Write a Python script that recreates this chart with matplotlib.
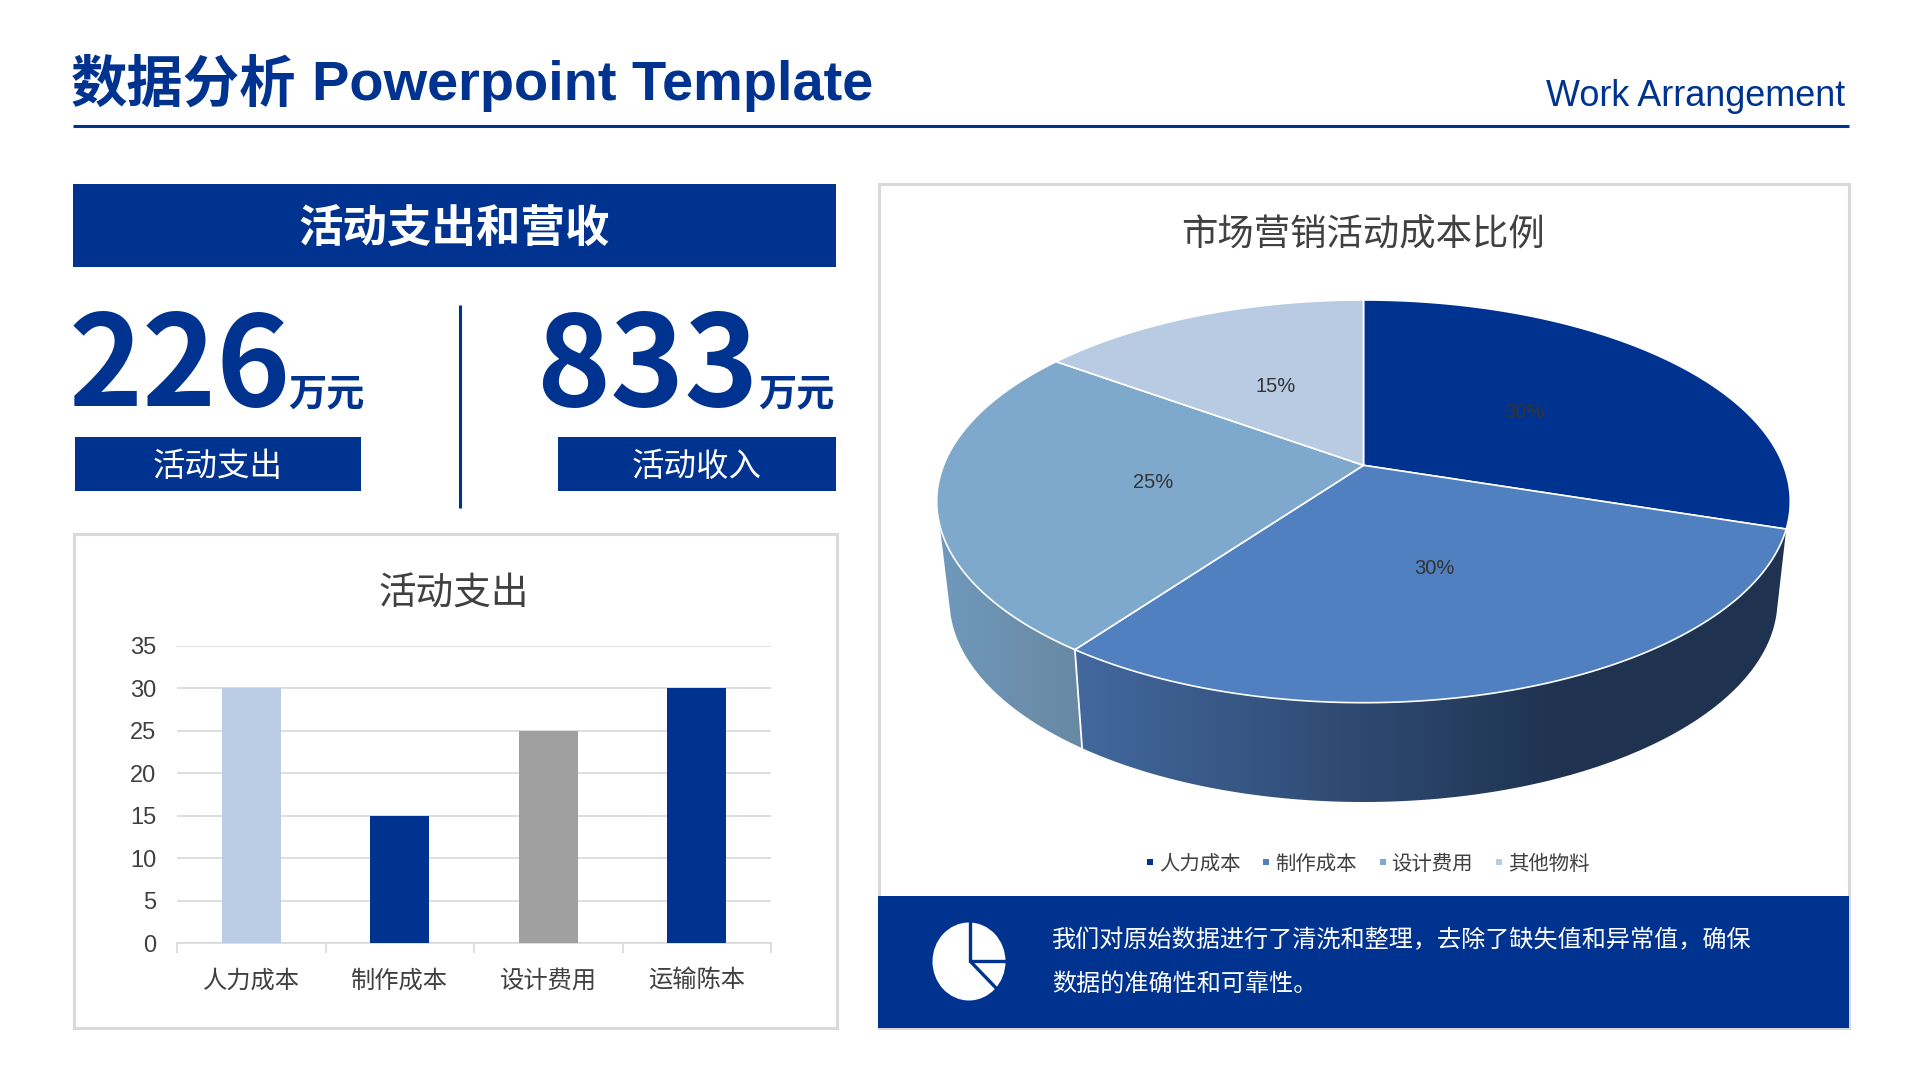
import numpy as np
import matplotlib
matplotlib.use('Agg')
import matplotlib.pyplot as plt
from matplotlib.colors import LinearSegmentedColormap
from matplotlib.patches import Rectangle, Ellipse, Polygon

plt.rcParams['font.family'] = ['Liberation Sans', 'Noto Sans CJK SC']

bar_cats = ['人力成本', '制作成本', '设计费用', '运输陈本']
bar_vals = [30, 15, 25, 30]
bar_ticks = [0, 5, 10, 15, 20, 25, 30, 35]

pie_cats = ['人力成本', '制作成本', '设计费用', '其他物料']
pie_vals = [30, 30, 25, 15]

spend = '226'
income = '833'

NAVY = '#00338F'
TEXT = '#404040'
GRID = '#D9D9D9'
bar_colors = ['#BBCDE5', NAVY, '#A0A0A0', NAVY]
pie_colors = [NAVY, '#5080C0', '#7FA9CC', '#B9CBE3']

fig = plt.figure(figsize=(19.2, 10.8), dpi=100, facecolor='white')

# full page axes in pixel coordinates
ax = fig.add_axes([0, 0, 1, 1])
ax.set_xlim(0, 1920)
ax.set_ylim(1080, 0)
ax.axis('off')

CJK = ['Noto Sans CJK SC', 'Liberation Sans']


def box(x0, y0, x1, y1, fc, ec='none', lw=0, z=1):
    ax.add_patch(Rectangle((x0, y0), x1 - x0, y1 - y0, fc=fc, ec=ec, lw=lw, zorder=z))


# header
ax.text(71, 86, '数据分析', color=NAVY, fontsize=40.6, fontweight='bold', family=CJK, va='center')
ax.text(312.4, 86, 'Powerpoint Template', color=NAVY, fontsize=40.3, fontweight='bold', va='center')
ax.text(1845, 96.5, 'Work Arrangement', color=NAVY, fontsize=25.9, va='center', ha='right')
ax.plot([72.5, 1848.5], [126, 126], color=NAVY, lw=2.2, solid_capstyle='butt')

# left top block
box(72.5, 184, 836, 267, NAVY)
ax.text(454, 230, '活动支出和营收', color='white', fontsize=32, fontweight='bold', family=CJK, ha='center', va='center')
ax.plot([460.4, 460.4], [305, 508], color=NAVY, lw=2.2, solid_capstyle='butt')
ax.text(69, 370, spend, color=NAVY, fontsize=90.5, fontweight='bold', family=CJK, va='center')
ax.text(288, 394, '万元', color=NAVY, fontsize=27.5, fontweight='bold', family=CJK, va='center')
ax.text(536, 370, income, color=NAVY, fontsize=90.5, fontweight='bold', family=CJK, va='center')
ax.text(758, 394, '万元', color=NAVY, fontsize=27.5, fontweight='bold', family=CJK, va='center')
box(75, 437, 361, 491, NAVY)
box(558, 437, 836, 491, NAVY)
ax.text(218, 467, '活动支出', color='white', fontsize=23.4, family=CJK, ha='center', va='center')
ax.text(697, 467, '活动收入', color='white', fontsize=23.4, family=CJK, ha='center', va='center')

# panels
box(73.5, 534, 836.5, 1028, 'white', GRID, 2.2)
box(879, 184, 1848.5, 1028, 'white', GRID, 2.2)
ax.text(453.5, 594, '活动支出', color=TEXT, fontsize=27.1, family=CJK, ha='center', va='center')
ax.text(1362.7, 235.5, '市场营销活动成本比例', color=TEXT, fontsize=26.2, family=CJK, ha='center', va='center')

# bar chart
bx = fig.add_axes([177 / 1920, 1 - 943 / 1080, (771 - 177) / 1920, (943 - 645.6) / 1080])
bx.patch.set_alpha(0)
bx.bar(range(len(bar_vals)), bar_vals, width=0.4, color=bar_colors, zorder=3)
bx.set_xlim(-0.5, len(bar_vals) - 0.5)
bx.set_ylim(0, 35)
bx.set_yticks(bar_ticks)
bx.set_xticks(np.arange(len(bar_vals) + 1) - 0.5)
bx.set_xticklabels([])
bx.set_xticks(range(len(bar_vals)), minor=True)
bx.set_xticklabels(bar_cats, minor=True, family=CJK)
bx.grid(axis='y', color=GRID, lw=1.2, zorder=0)
for s in ['top', 'right', 'left']:
    bx.spines[s].set_visible(False)
bx.spines['bottom'].set_color(GRID)
bx.spines['bottom'].set_linewidth(1.2)
bx.tick_params(axis='y', length=0, labelsize=17, labelcolor=TEXT, pad=15)
bx.tick_params(axis='x', which='major', length=7, width=1.2, color=GRID)
bx.tick_params(axis='x', which='minor', length=0, labelsize=17.5, labelcolor=TEXT, pad=18)

# 3d pie, perspective projection of a unit circle for the top face
CX, CY = 1363.5, 465.3
A0, B0, K = 419.9, 194.9, 0.179
# lower rim of the side wall is its own ellipse
LOW_A, LOW_B, LOW_CY = 414.0, 202.0, 600.0
LOW_SCALE = 0.975
WALL_LEFT = 253


def project(deg, r=1.0):
    t = np.radians(deg)
    u, v = r * np.sin(t), r * np.cos(t)
    s = 1 / (1 + K * v)
    return A0 * u * s, B0 * v * s


def rim(deg):
    x, y = project(deg)
    return CX + x, CY - y


def low_phi(deg):
    x, _ = project(deg)
    return np.degrees(np.arccos(LOW_SCALE * x / LOW_A))


def low_rim(phi):
    t = np.radians(phi)
    return CX + LOW_A * np.cos(t), LOW_CY + LOW_B * np.sin(t)


edges = np.cumsum([0] + pie_vals) / sum(pie_vals) * 360
PHI_END = 3.7


def wall(a0, a1, phi0, phi1, stops, x0, x1):
    tx, ty = rim(np.linspace(a0, a1, 120))
    lx, ly = low_rim(np.linspace(phi1, phi0, 120))
    pts = np.r_[np.c_[tx, ty], np.c_[lx, ly]]
    poly = Polygon(pts, fc='none', ec='none')
    ax.add_patch(poly)
    cmap = LinearSegmentedColormap.from_list('w', stops)
    im = ax.imshow(np.linspace(0, 1, 256)[None, :], cmap=cmap, extent=(x0, x1, 830, 380), aspect='auto', zorder=2)
    im.set_clip_path(poly)


sep_phi = low_phi(edges[2])
wall(edges[1], edges[2], PHI_END, sep_phi,
     [(0, '#43699F'), (0.68, '#1F3350'), (1, '#1F3350')], 1070, 1790)
wall(edges[2], WALL_LEFT, sep_phi, 180 - PHI_END,
     ['#7099BC', '#6888A2'], 935, 1086)
tx, ty = rim(edges[2])
lx, ly = low_rim(sep_phi)
ax.plot([tx, lx], [ty, ly], color='white', lw=1.3, zorder=3)

for i, val in enumerate(pie_vals):
    x, y = rim(np.linspace(edges[i], edges[i + 1], 200))
    pts = np.r_[[[CX, CY]], np.c_[x, y]]
    ax.add_patch(Polygon(pts, closed=True, fc=pie_colors[i], ec='white', lw=1.2, zorder=4, joinstyle='round'))
    lx, ly = project((edges[i] + edges[i + 1]) / 2, 0.5)
    ax.text(CX + lx, CY - ly + 1.5, f'{val}%', color='#333333', fontsize=14.5, ha='center', va='center', zorder=5)

# legend
for i, name in enumerate(pie_cats):
    lx = 1147 + 116.3 * i
    ax.add_patch(Rectangle((lx, 859), 6, 6, fc=pie_colors[i], ec='none', zorder=3))
    ax.text(lx + 12, 864.5, name, color=TEXT, fontsize=14.7, family=CJK, va='center', zorder=3)

# note strip
box(878, 896, 1848.5, 1028, NAVY, z=3)
ax.add_patch(Ellipse((969, 961.5), 73, 78, fc='white', ec='none', zorder=4))
ax.plot([970, 970], [918, 962], color=NAVY, lw=2.4, zorder=5, solid_capstyle='butt')
ax.plot([970, 1010], [961, 961], color=NAVY, lw=2.4, zorder=5, solid_capstyle='butt')
ax.plot([970, 997], [961, 989], color=NAVY, lw=2.4, zorder=5, solid_capstyle='butt')
ax.text(1052, 940.4, '我们对原始数据进行了清洗和整理，去除了缺失值和异常值，确保', color='white', fontsize=17.35, family=CJK, va='center', zorder=5)
ax.text(1052, 983.4, '数据的准确性和可靠性。', color='white', fontsize=17.35, family=CJK, va='center', zorder=5)

ax.set_xlim(0, 1920)
ax.set_ylim(1080, 0)
fig.savefig('out.png', dpi=100)
